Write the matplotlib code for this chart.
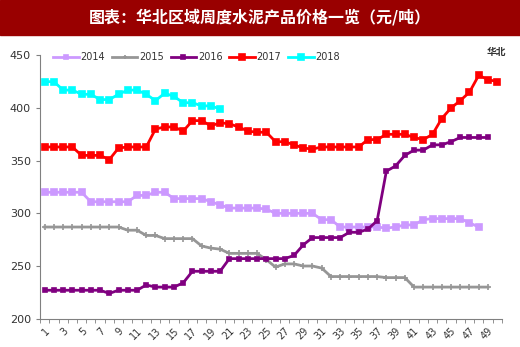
import numpy as np
import matplotlib.pyplot as plt

plt.rcParams['font.family'] = ['DejaVu Sans']

weeks = np.arange(1, 51)
tick_labels = [str(w) for w in range(1, 50, 2)]

y2014 = [320, 320, 320, 320, 320, 311, 311, 311, 311, 311,
         317, 317, 320, 320, 314, 314, 314, 314, 311, 308,
         305, 305, 305, 305, 304, 300, 300, 300, 300, 300,
         294, 294, 287, 287, 287, 287, 287, 286, 287, 289,
         289, 294, 295, 295, 295, 295, 291, 287]
y2015 = [287, 287, 287, 287, 287, 287, 287, 287, 287, 284,
         284, 279, 279, 276, 276, 276, 276, 269, 267, 266,
         262, 262, 262, 262, 256, 249, 252, 252, 250, 250,
         248, 240, 240, 240, 240, 240, 240, 239, 239, 239,
         230, 230, 230, 230, 230, 230, 230, 230, 230]
y2016 = [227, 227, 227, 227, 227, 227, 227, 224, 227, 227,
         227, 232, 230, 230, 230, 234, 245, 245, 245, 245,
         257, 257, 257, 257, 257, 257, 257, 260, 270, 277,
         277, 277, 277, 282, 282, 285, 293, 340, 345, 355,
         360, 360, 365, 365, 368, 372, 372, 372, 372]
y2017 = [363, 363, 363, 363, 355, 355, 355, 351, 362, 363,
         363, 363, 380, 382, 382, 378, 388, 388, 383, 386,
         385, 382, 378, 377, 377, 368, 368, 365, 362, 361,
         363, 363, 363, 363, 363, 370, 370, 375, 375, 375,
         372, 370, 375, 390, 400, 407, 415, 431, 427, 425]
y2018 = [425, 425, 417, 417, 413, 413, 408, 408, 413, 417,
         417, 413, 407, 414, 411, 405, 405, 402, 402, 399]

series = [
    ('2014', y2014, '#CC99FF', 's', 4),
    ('2015', y2015, '#969696', '+', 4),
    ('2016', y2016, '#800080', 's', 3),
    ('2017', y2017, '#FF0000', 's', 5),
    ('2018', y2018, '#00FFFF', 's', 5),
]

fig = plt.figure(figsize=(5.2, 3.47), dpi=100)
ax = fig.add_axes([0.077, 0.0816, 0.888, 0.759])

for name, vals, color, marker, ms in series:
    ax.plot(weeks[:len(vals)], vals, color=color, marker=marker, markersize=ms,
            markeredgewidth=1.2, linewidth=2, label=name)

ax.set_xlim(0.5, 50.5)
ax.set_ylim(200, 450)
ax.set_yticks(np.arange(200, 451, 50))
ax.set_xticks(np.arange(1, 50, 2))
ax.set_xticklabels(tick_labels, rotation=45, ha='right', va='top',
                   rotation_mode='anchor', fontsize=7, color='#333333')
ax.set_xticks(np.arange(0.5, 51, 1), minor=True)
ax.tick_params(axis='x', which='major', length=0, pad=5)
ax.tick_params(axis='x', which='minor', length=3, color='#808080')
ax.tick_params(axis='y', length=3, color='#808080', labelsize=8, labelcolor='#333333')

for s in ['top', 'right']:
    ax.spines[s].set_visible(False)
for s in ['left', 'bottom']:
    ax.spines[s].set_color('#808080')

leg = ax.legend(loc='upper left', bbox_to_anchor=(0.01, 1.045), ncol=5, frameon=False,
                fontsize=7, handlelength=2.6, columnspacing=0.7, handletextpad=0.2,
                labelcolor='#333333', numpoints=1, markerscale=0.8)

# title bar
fig.patches.append(plt.Rectangle((0, 0.9), 1, 0.1, transform=fig.transFigure,
                                 color='#990000', zorder=0))
fig.text(0.5, 0.95, '图表：华北区域周度水泥产品价格一览（元/吨）', color='white',
         fontsize=11.5, fontweight='bold', ha='center', va='center',
         family=['Noto Sans CJK SC', 'DejaVu Sans'])
fig.text(0.955, 0.85, '华北', fontsize=7, fontweight='bold', ha='center', va='center',
         family=['Noto Sans CJK SC', 'DejaVu Sans'], color='#333333')

fig.savefig('out.png', dpi=100)
